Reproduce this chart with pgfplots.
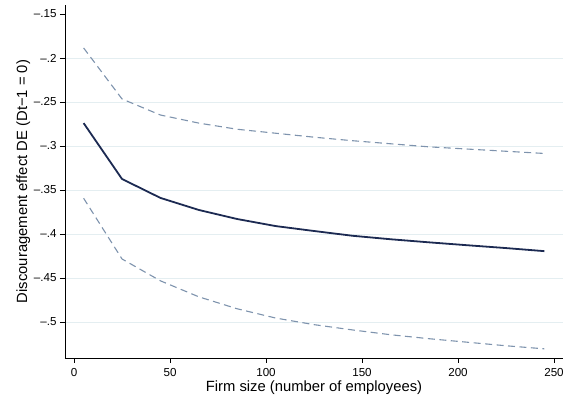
\documentclass[border=0pt]{standalone}
\usepackage{pgfplots}
\pgfplotsset{compat=1.18}
\usepackage{fontspec}
\setmainfont{Liberation Sans}

\definecolor{estline}{HTML}{1C2A52}
\definecolor{ciline}{HTML}{7E93AD}
\definecolor{gridc}{HTML}{E4EEF1}

% Estimated discouragement effect and 95% confidence bounds by firm size
\pgfplotstableread{
size  est      upper    lower
5     -0.2740  -0.1886  -0.3594
25    -0.3375  -0.2466  -0.4284
45    -0.3590  -0.2648  -0.4532
65    -0.3727  -0.2740  -0.4714
85    -0.3830  -0.2810  -0.4850
105   -0.3910  -0.2855  -0.4955
125   -0.3966  -0.2900  -0.5030
145   -0.4020  -0.2940  -0.5090
165   -0.4060  -0.2975  -0.5145
185   -0.4095  -0.3010  -0.5190
205   -0.4128  -0.3035  -0.5230
225   -0.4160  -0.3060  -0.5270
245   -0.4195  -0.3085  -0.5305
}\desize

\begin{document}
\begin{tikzpicture}
% fixed page frame around the plot region
\useasboundingbox (-65pt,-40pt) rectangle (506pt,358pt);
\begin{axis}[
  scale only axis,
  width=498pt, height=353pt,
  xmin=-4.7, xmax=254.7,
  ymin=-0.5409, ymax=-0.1398,
  axis x line*=bottom,
  axis y line*=left,
  axis line style={black, line width=0.7pt},
  every tick/.style={black, line width=0.7pt},
  tick align=outside,
  major tick length=5pt,
  xtick={0,50,100,150,200,250},
  ytick={-0.5,-0.45,-0.4,-0.35,-0.3,-0.25,-0.2},
  yticklabels={–.5,–.45,–.4,–.35,–.3,–.25,–.2},
  extra y ticks={-0.15},
  extra y tick labels={–.15},
  extra y tick style={grid=none},
  ymajorgrids,
  major grid style={gridc, line width=0.8pt},
  /pgf/number format/assume math mode=true,
  tick label style={font=\fontsize{11.6}{13}\selectfont},
  xticklabel style={yshift=-1.5pt},
  xlabel={Firm size (number of employees)},
  ylabel={Discouragement effect DE (Dt−1 = 0)},
  every axis x label/.style={at={(axis description cs:0.5,-0.0955)}, anchor=base,
    font=\fontsize{14.8}{17}\selectfont},
  every axis y label/.style={at={(axis description cs:-0.0763,0.5)}, anchor=base, rotate=90,
    font=\fontsize{14.8}{17}\selectfont},
  clip=false,
]
\addplot[ciline, line width=1.1pt, dash pattern=on 7pt off 4.5pt] table[x=size, y=upper] {\desize};
\addplot[ciline, line width=1.1pt, dash pattern=on 7pt off 4.5pt] table[x=size, y=lower] {\desize};
\addplot[estline, line width=1.8pt] table[x=size, y=est] {\desize};
\end{axis}
\end{tikzpicture}
\end{document}
